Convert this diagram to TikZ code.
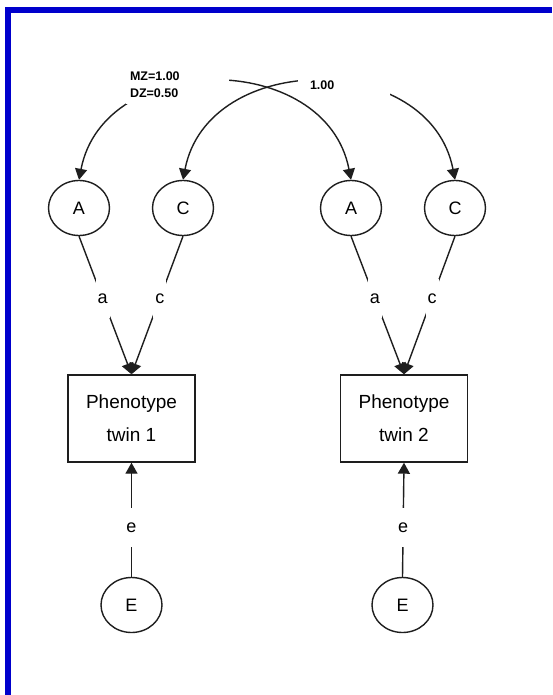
\documentclass[tikz,border=0pt]{standalone}
\usepackage{fontspec}
\setmainfont{Liberation Sans}
\usetikzlibrary{shapes.geometric,arrows.meta}
\definecolor{frameblue}{RGB}{0,0,204}
\definecolor{ink}{RGB}{30,30,30}
\begin{document}
\begin{tikzpicture}[x=1pt,y=-1pt,
  latent/.style={ellipse,draw=ink,line width=1.4pt,minimum width=61pt,minimum height=55pt,inner sep=0pt,font=\fontsize{18}{20}\selectfont},
  observed/.style={rectangle,draw=ink,line width=1.4pt,minimum width=127pt,minimum height=87pt,align=center,font=\fontsize{19}{33}\selectfont},
  edgeline/.style={draw=ink,line width=1.4pt,-{Triangle[width=12pt,length=11pt]}},
  covline/.style={draw=ink,line width=1.4pt,{Triangle[width=12pt,length=11pt]}-{Triangle[width=12pt,length=11pt]}},
  coef/.style={fill=white,inner xsep=2pt,inner ysep=0pt,minimum height=39pt,font=\fontsize{18}{20}\selectfont},
  toplabel/.style={fill=white,align=left,inner ysep=0pt,font=\bfseries\fontsize{12.5}{17}\selectfont}]
\useasboundingbox (0,0) rectangle (552,695);
\fill[white] (0,0) rectangle (552,695);
\fill[frameblue] (5,7) rectangle (552,13);
\fill[frameblue] (5,7) rectangle (11,695);

\node[latent] (A1) at (79,208) {A};
\node[latent] (C1) at (183,208) {C};
\node[latent] (A2) at (351,208) {A};
\node[latent] (C2) at (455,208) {C};
\node[observed] (P1) at (131.5,418.5) {Phenotype\\twin 1};
\node[observed] (P2) at (404,418.5) {Phenotype\\twin 2};
\node[latent] (E1) at (131.5,605) {E};
\node[latent] (E2) at (402.5,605) {E};

\draw[edgeline] (A1.south) -- node[coef,pos=0.45]{a} (P1.north);
\draw[edgeline] (C1.south) -- node[coef,pos=0.45]{c} (P1.north);
\draw[edgeline] (A2.south) -- node[coef,pos=0.45]{a} (P2.north);
\draw[edgeline] (C2.south) -- node[coef,pos=0.45]{c} (P2.north);
\draw[edgeline] (E1.north) -- node[coef,pos=0.433]{e} (P1.south);
\draw[edgeline] (E2.north) -- node[coef,pos=0.433]{e} (P2.south);

\draw[covline] (A1.north) .. controls +(25,-130) and +(-25,-130) .. (A2.north);
\draw[covline] (C1.north) .. controls +(25,-130) and +(-25,-130) .. (C2.north);

\node[toplabel,text width=95pt,inner xsep=4pt,minimum height=38pt] (mzlabel) at (177.5,85) {MZ=1.00\\DZ=0.50};
\node[toplabel,text width=68pt,inner xsep=12pt,minimum height=30pt] (onelabel) at (344,85) {1.00};
\end{tikzpicture}
\end{document}
